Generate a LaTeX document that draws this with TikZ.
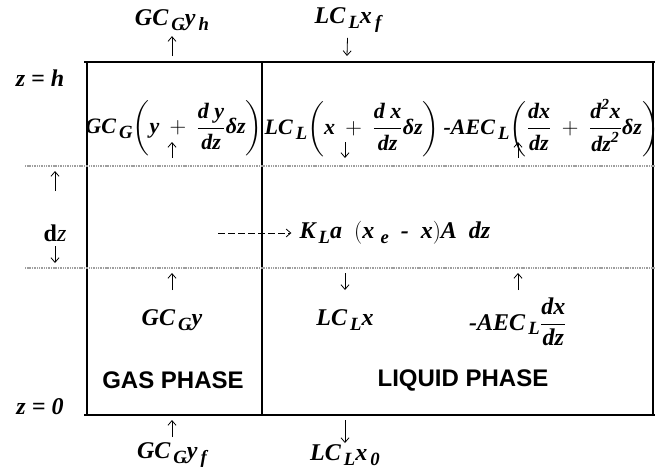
\documentclass[tikz,border=0pt]{standalone}
\usepackage{amsmath}
\usepackage{fontspec}
\setmainfont{Liberation Serif}
\setsansfont{Liberation Sans}
\usetikzlibrary{arrows.meta, positioning}
\newcommand{\bi}[1]{\text{\bfseries\itshape #1}}
\newcommand{\idx}[1]{\mbox{\raisebox{-3.5pt}{\fontsize{14}{14}\selectfont\bfseries\itshape\,#1}}}
\tikzset{
  eqlbl/.style={font=\fontsize{18}{21}\selectfont, inner sep=1pt},
  facelbl/.style={font=\fontsize{16.5}{20}\selectfont, inner sep=1pt},
  phaselbl/.style={font=\fontsize{18}{22}\selectfont\sffamily\bfseries, inner sep=1pt},
  plate/.style={line width=2.2pt},
  wall/.style={line width=1pt},
  slab/.style={line width=1.6pt, draw=gray!75, dash pattern=on 0.8pt off 0.5pt},
  flow/.style={-{Straight Barb[length=3.5pt,width=6pt]}, line width=0.6pt},
  transfer/.style={flow, dash pattern=on 5pt off 2.5pt},
}

\begin{document}
\begin{tikzpicture}[x=0.75pt, y=-0.75pt]
  \useasboundingbox (0,0) rectangle (665,471);
  %% Column walls and plates
  \draw[wall] (87,62) -- (87,415);
  \draw[wall] (262,62) -- (262,415);
  \draw[wall] (653,62) -- (653,415);
  \draw[plate] (84,62) -- (655,62);
  \draw[plate] (84,415) -- (655,415);
  %% Element boundaries
  \draw[slab] (25,166) -- (655,166);
  \draw[slab] (25,268) -- (655,268);
  %% Height labels
  \node[eqlbl] (zh) at (40,78) {\bi{z = h}};
  \node[eqlbl] (z0) at (40,407) {\bi{z = 0}};
  \node[eqlbl] (dz) at (55,233) {\textbf{d}\textit{z}};
  \coordinate (dztop) at (55,171);
  \coordinate (dzbot) at (55,263);
  \coordinate (dzupa) at (55,191);
  \coordinate (dzdna) at (55,246);
  \draw[flow] (dzupa) -- (dztop);
  \draw[flow] (dzdna) -- (dzbot);
  %% Top streams
  \node[eqlbl] (gtop) at (172,20) {$\bi{GC}\idx{G}\bi{y}\idx{h}$};
  \node[eqlbl] (ltop) at (348,20) {$\bi{LC}\idx{L}\bi{x}\idx{f}$};
  \coordinate (gtopa) at (172,56);
  \coordinate (ltopa) at (347,56);
  \draw[flow, shorten >=3pt] (gtopa) -- (gtop);
  \draw[flow, shorten <=3pt] (ltop) -- (ltopa);
  %% Upper face of the element
  \node[facelbl] (gmid) at (174,128)
        {$\bi{GC}\idx{G}\biggl(\bi{y}\:+\:\dfrac{\bi{d y}}{\bi{dz}}\bi{δz}\biggr)$};
  \node[facelbl, anchor=west] (lmid) at (263,128)
        {$\bi{LC}\idx{L}\biggl(\bi{x}\:+\:\dfrac{\bi{d x}}{\bi{dz}}\bi{δz}\biggr)
          \,\bi{-AEC}\idx{L}\biggl(\dfrac{\bi{dx}}{\bi{dz}}\:+\:\dfrac{\bi{d}^{\bi{2}}\bi{x}}{\bi{dz}^{\bi{2}}}\bi{δz}\biggr)$};
  \coordinate (gmidt) at (172,142);
  \coordinate (gmidb) at (172,158);
  \coordinate (lmidt) at (345,142);
  \coordinate (lmidb) at (345,158);
  \coordinate (dmidt) at (518,142);
  \coordinate (dmidb) at (518,158);
  \draw[flow] (gmidb) -- (gmidt);
  \draw[flow] (lmidt) -- (lmidb);
  \draw[flow] (dmidb) -- (dmidt);
  %% Mass transfer
  \node[eqlbl, anchor=west] (kla) at (298,233)
        {$\bi{K}\idx{L}\bi{a}\ \ (\bi{x}\idx{\,e}\ \ \bi{-}\ \ \bi{x})\bi{A}\ \ \bi{dz}$};
  \coordinate (gasx) at (218,233);
  \draw[transfer, shorten >=5pt] (gasx) -- (kla);
  %% Lower face of the element
  \node[eqlbl] (glow) at (172,320) {$\bi{GC}\idx{G}\bi{y}$};
  \node[eqlbl] (llow) at (345,320) {$\bi{LC}\idx{L}\bi{x}$};
  \node[eqlbl] (dlow) at (518,322) {$\bi{-AEC}\idx{L}\dfrac{\bi{dx}}{\bi{dz}}$};
  \coordinate (glowt) at (172,273);
  \coordinate (glowb) at (172,290);
  \coordinate (llowt) at (345,273);
  \coordinate (llowb) at (345,290);
  \coordinate (dlowt) at (518,273);
  \coordinate (dlowb) at (518,290);
  \draw[flow] (glowb) -- (glowt);
  \draw[flow] (llowt) -- (llowb);
  \draw[flow] (dlowb) -- (dlowt);
  %% Phases
  \node[phaselbl] (gas) at (173,380) {GAS PHASE};
  \node[phaselbl] (liq) at (463,380) {LIQUID PHASE};
  %% Bottom streams
  \node[eqlbl] (gbot) at (172,455) {$\bi{GC}\idx{G}\bi{y}\idx{f}$};
  \node[eqlbl] (lbot) at (345,455) {$\bi{LC}\idx{L}\bi{x}\idx{0}$};
  \coordinate (gbota) at (172,420);
  \coordinate (lbota) at (345,420);
  \draw[flow, shorten <=3pt] (gbot) -- (gbota);
  \draw[flow] (lbota) -- (lbot);
\end{tikzpicture}
\end{document}
